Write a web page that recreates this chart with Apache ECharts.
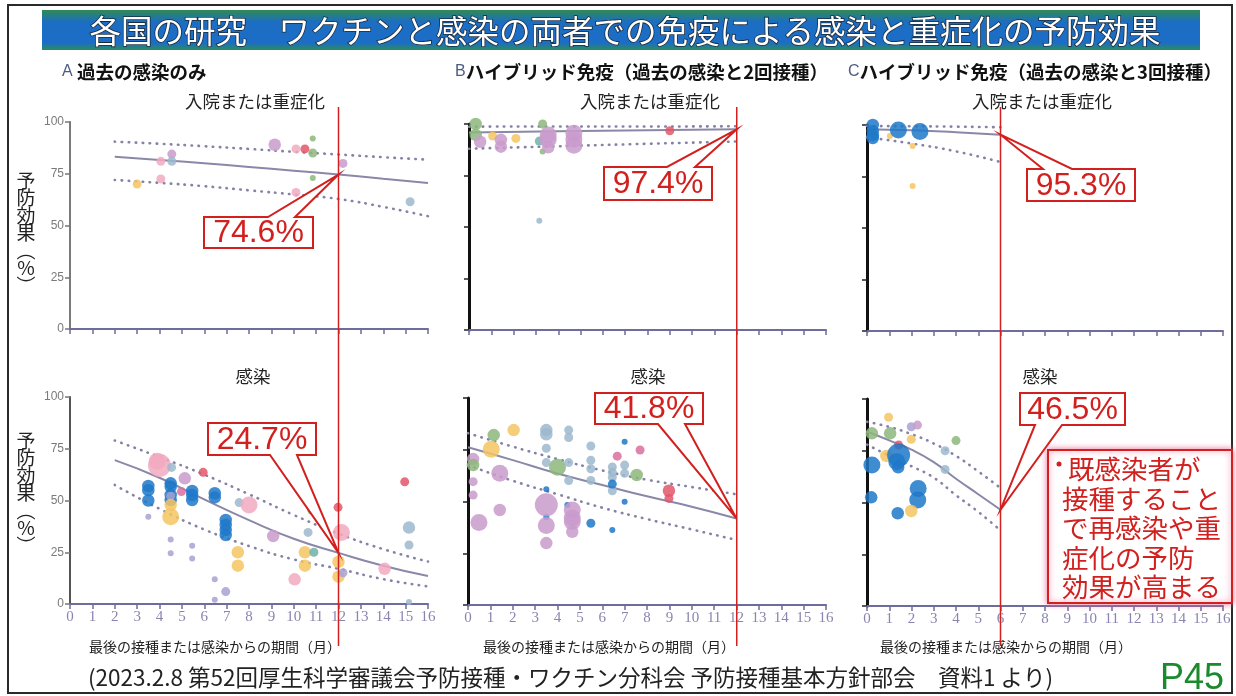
<!DOCTYPE html>
<html><head><meta charset="utf-8">
<script src="https://cdn.jsdelivr.net/npm/echarts@6/dist/echarts.min.js"></script>
<style>html,body{margin:0;padding:0;background:#fff}#c{width:1236px;height:696px}</style>
</head><body><div id="c"></div><script>
// ---------- texts ----------
const titleText = '各国の研究　ワクチンと感染の両者での免疫による感染と重症化の予防効果';
const panelLetters = ['A', 'B', 'C'];
const panelHeads = ['過去の感染のみ', 'ハイブリッド免疫（過去の感染と2回接種）', 'ハイブリッド免疫（過去の感染と3回接種）'];
const rowTitles = ['入院または重症化', '感染'];
const yNameChars = ['予', '防', '効', '果', '︵', '%', '︶'];
const xName = '最後の接種または感染からの期間（月）';
const footText = '(2023.2.8 第52回厚生科学審議会予防接種・ワクチン分科会 予防接種基本方針部会　資料1 より)';
const pageNo = 'P45';
const noteLines = ['既感染者が', '接種すること', 'で再感染や重', '症化の予防', '効果が高まる'];
const yTicks = [0, 25, 50, 75, 100];
const xMonths = [0, 16];

// study colour index: 0 blue,1 lavender,2 pink,3 yellow,4 grey-blue,5 red,6 green,7 teal,8 orchid,9 magenta
// points: [months, effectiveness %, weight, study]
const ptsA_severe = [
  [3.0,70,2,3],[4.06,81,2,2],[4.06,72.5,2,2],[4.55,84.5,2,8],[4.55,81,2,4],
  [9.15,89,3,8],[10.1,87,2,2],[10.5,87,2,5],[10.85,92,1,6],[10.85,85,2,6],
  [10.85,73,1,6],[10.1,66,2,2],[12.2,80,2,8],[15.2,61.5,2,4]
];
const ptsB_severe = [
  [0.3,100,3,6],[0.3,94.7,3,6],[0.5,91.4,3,8],[1.06,94.2,2,3],[1.43,92.3,3,8],[1.43,89,3,8],
  [2.1,93,2,3],[3.3,100,2,6],[3.15,91.7,2,7],[3.3,86.6,1,6],[3.55,94.7,4,8],[3.55,92.6,4,8],
  [3.55,88.7,3,8],[3.15,53,1,4],[4.7,95.5,4,8],[4.7,92.6,4,8],[4.7,89.7,4,8],[9.0,96.7,2,5]
];
const ptsC_severe = [
  [0.26,100,3,0],[0.26,97,3,0],[0.26,95,3,0],[0.26,93.7,3,0],[1.03,94.7,1,3],
  [1.41,97.6,4,0],[2.05,89.8,1,3],[2.38,96.8,4,0],[2.05,70.4,1,3]
];
const ptsA_inf = [
  [3.9,69,4,2],[4.0,67,5,2],[4.54,66,2,4],[5.95,63.6,2,5],[5.13,60.7,3,8],[4.98,54.3,2,9],
  [3.5,57,3,0],[3.5,55,3,0],[3.5,50,3,0],[4.5,58.3,3,0],[4.5,56.7,3,0],[4.5,52.7,3,0],[4.5,50.2,3,0],
  [4.5,52,2,1],[4.5,47.8,3,3],[4.5,42.2,4,3],[3.5,42.2,1,1],[4.5,31.2,1,1],[4.5,24.5,1,1],
  [5.46,54.6,3,0],[5.46,52.6,3,0],[5.46,50.2,3,0],[5.46,28.2,1,1],[5.46,22,1,1],
  [6.47,53.5,3,0],[6.47,51.5,3,0],[6.47,12,1,1],[6.47,2,1,1],
  [6.96,40.6,3,0],[6.96,38.2,3,0],[6.96,35.7,3,0],[6.96,33.3,3,0],[6.96,6,2,1],
  [7.56,49,2,4],[8.0,47.8,4,2],[7.5,25,3,3],[7.5,18.5,3,3],[9.08,32.8,3,8],[10.04,11.9,3,2],
  [10.5,25,3,3],[10.5,18.5,3,3],[10.64,34.6,2,4],[10.9,25,2,7],
  [10.8,49.4,2,6],[10.8,47,2,6],[10.8,45.4,2,6],[11.98,46.7,2,5],[12.13,34.5,4,2],
  [12.0,20.4,3,3],[12.0,13.2,3,3],[12.2,15.1,2,1],[14.06,17,3,2],[14.96,59,2,5],
  [15.15,36.9,3,4],[15.15,28.5,2,4],[15.15,1,1,4]
];
const ptsB_inf = [
  [0.23,70.5,3,8],[0.23,67.6,3,6],[0.23,59.6,2,8],[0.23,53.1,2,8],[0.49,39.8,4,8],
  [1.15,82.1,3,6],[1.04,75.2,4,3],[2.04,84.5,3,3],[1.42,63.6,4,8],[1.42,45.9,3,8],
  [3.5,84.5,3,4],[3.5,82.5,3,4],[3.5,75.7,2,4],[3.5,68.8,2,4],[3.5,55.9,1,0],[3.5,42.5,1,0],
  [3.5,48.4,5,8],[3.5,38.4,4,8],[3.5,29.9,3,8],[4.0,66.5,4,6],
  [4.5,84.5,2,4],[4.5,80.9,2,4],[4.5,68.8,2,4],[4.5,60.1,2,4],[4.44,48.3,1,0],
  [4.66,45.9,4,8],[4.66,42,4,8],[4.66,40.3,4,8],[4.66,35.4,3,8],
  [5.49,76.8,2,4],[5.49,69.9,2,4],[5.49,65.8,2,4],[5.49,60.2,2,4],[5.49,39.5,2,0],
  [6.45,66.7,2,4],[6.45,64.1,2,4],[6.45,61.6,2,4],[6.45,55.2,2,4],[6.45,58.4,2,0],[6.45,36.2,1,0],
  [6.67,71.9,2,9],[7.0,78.9,1,0],[7.0,67.6,2,4],[7.0,63.6,2,4],[7.0,49.9,1,0],
  [7.69,74.9,2,9],[7.54,62.8,3,6],[8.98,55.2,3,5],[8.98,51.5,2,5]
];
const ptsC_inf = [
  [0.97,91.2,2,3],[1.99,86.6,2,1],[2.27,87.4,2,8],[0.22,83.4,3,6],[1.04,83.4,3,6],
  [1.42,77.8,2,5],[1.99,80.5,2,3],[4.0,79.9,2,6],[3.51,75,2,4],[3.51,66,2,4],[0.87,72.5,3,3],
  [1.42,72.9,5,0],[1.34,69.7,4,0],[1.4,67,3,0],[0.22,68.1,4,0],[0.19,52.5,3,0],
  [2.3,56.8,4,0],[2.28,51.2,4,0],[1.38,44.8,3,0],[1.99,45.9,3,3]
];

// fitted curves and 95% bounds: [months, %]
const fitA_severe = [[2,83.2],[4,81.7],[6,80.1],[8,78.3],[10,76.5],[12,74.6],[14,72.6],[16,70.5]];
const upA_severe  = [[2,90.5],[4,89.5],[6,88.3],[8,87],[10,85.6],[12,84.3],[14,83],[16,81.8]];
const loA_severe  = [[2,72],[4,70.6],[6,69],[8,67],[10,65],[12,62.8],[14,59],[16,54.5]];
const fitB_severe = [[0,95.9],[4,96.5],[8,97],[12,97.4]];
const upB_severe  = [[0,98.7],[4,98.8],[8,98.8],[12,98.9]];
const loB_severe  = [[0,88],[4,89.2],[8,90.4],[12,91.5]];
const fitC_severe = [[0,97.9],[2,97.4],[4,96.5],[6,95.3]];
const upC_severe  = [[0,99.5],[2,99.4],[4,99.2],[6,98.9]];
const loC_severe  = [[0,94],[2,91],[4,87.2],[6,82]];
const fitA_inf = [[2,69.5],[4,61],[6,50.5],[8,40.5],[10,31.5],[12,24.7],[14,18.5],[16,13.5]];
const upA_inf  = [[2,79],[4,71],[6,62.5],[8,53],[10,43],[12,34],[14,26.5],[16,20.5]];
const loA_inf  = [[2,57.5],[4,46],[6,36],[8,28],[10,21.5],[12,17],[14,12],[16,8.5]];
const fitB_inf = [[0,76.2],[2,70],[4,63.5],[6,58],[8,52.5],[10,47.5],[12,41.8]];
const upB_inf  = [[0,83],[2,76.5],[4,70.5],[6,65],[8,60.5],[10,57],[12,53.5]];
const loB_inf  = [[0,67.6],[2,60],[4,53.5],[6,47],[8,41.5],[10,36.5],[12,31.4]];
const fitC_inf = [[0,84.3],[1,80],[2,75.5],[3,69.5],[4,61.5],[5,54],[6,46.5]];
const upC_inf  = [[0,89],[1,86.5],[2,83],[3,78.5],[4,72.5],[5,65],[6,57]];
const loC_inf  = [[0,78],[1,72.5],[2,67.5],[3,62],[4,53.5],[5,45.5],[6,36.5]];

// highlighted estimates [months, %]
const highlights = [[12,74.6],[12,97.4],[6,95.3],[12,24.7],[12,41.8],[6,46.5]];

// ---------- styling / layout ----------
const studyColors = ['#1f78c8','#a6a2d2','#f2a9bf','#f4c462','#9cb9cd','#e2566a','#8db77b','#70b0a6','#c99bcc','#d9709f'];
const sizeOf = w => [0, 6, 9, 12.5, 17, 23][w];
const grids = [
  {left:70, top:122, width:358, height:207},
  {left:469, top:124, width:357, height:206},
  {left:867, top:125, width:356, height:206},
  {left:70, top:397, width:358, height:207},
  {left:468, top:398, width:358, height:207},
  {left:867, top:399, width:356, height:207}
];
const panels = [
  [ptsA_severe, fitA_severe, upA_severe, loA_severe],
  [ptsB_severe, fitB_severe, upB_severe, loB_severe],
  [ptsC_severe, fitC_severe, upC_severe, loC_severe],
  [ptsA_inf, fitA_inf, upA_inf, loA_inf],
  [ptsB_inf, fitB_inf, upB_inf, loB_inf],
  [ptsC_inf, fitC_inf, upC_inf, loC_inf]
];
// callout boxes: x, y, w, h, pointer base 1, pointer base 2, side
const boxes = [
  [204,217,109,31,64,91,'top'],
  [604,167,108,33,63,91,'top'],
  [1027,169,108,32,16,45,'top'],
  [208,423,108,32,62,89,'bottom'],
  [595,393,108,31,63,90,'bottom'],
  [1020,393,105,32,15,42,'bottom']
];
const RED = '#d2201e';
const JP = '"Noto Sans CJK JP"';

const chart = echarts.init(document.getElementById('c'), null, {renderer:'canvas'});
const xAxes = [], yAxes = [], series = [];
grids.forEach((g, i) => {
  const bottomRow = i >= 3;
  xAxes.push({
    gridIndex:i, type:'value', min:xMonths[0], max:xMonths[1], interval:1,
    splitLine:{show:false},
    axisLine:{lineStyle:{color:'#6e6c9c', width:2}},
    axisTick:{length:5, lineStyle:{color:'#6e6c9c', width:1.5}},
    axisLabel:{show:bottomRow, color:'#8a85b0', fontFamily:'"Liberation Serif"', fontSize:15, margin:6}
  });
  const col = i % 3;
  yAxes.push({
    gridIndex:i, type:'value', min:yTicks[0], max:yTicks[yTicks.length-1], interval:25,
    splitLine:{show:false},
    axisLine:{show:true, lineStyle:{color: col === 0 ? (bottomRow ? '#555' : '#7a7a7a') : '#111', width: col === 0 ? 2 : 3}},
    axisTick:{show:true, length:5, lineStyle:{color: col === 0 ? '#777' : '#222', width:1.5}},
    axisLabel:{show: col === 0, color:'#7a7a7a', fontSize:12, fontFamily:'"Liberation Sans"', margin:6}
  });
  const [pts, fit, up, lo] = panels[i];
  const bound = d => ({type:'line', xAxisIndex:i, yAxisIndex:i, data:d, smooth:true, showSymbol:false, silent:true,
    lineStyle:{color:'#8482a6', width:2.6, type:[0.5,6.5], cap:'round'}, z:2});
  series.push(bound(up), bound(lo));
  series.push({type:'line', xAxisIndex:i, yAxisIndex:i, data:fit, smooth:true, showSymbol:false, silent:true,
    lineStyle:{color:'#8a88a8', width:2}, z:2});
  series.push({type:'scatter', xAxisIndex:i, yAxisIndex:i, data:pts, z:3,
    symbolSize: v => sizeOf(v[2]),
    itemStyle:{opacity:0.85, color: p => studyColors[p.data[3]]}});
});

chart.setOption({
  animation:false,
  backgroundColor:'#ffffff',
  grid: grids.map(g => Object.assign({containLabel:false}, g)),
  xAxis: xAxes, yAxis: yAxes, series: series
});

// ---------- annotations ----------
const gfx = [];
gfx.push({type:'rect', shape:{x:8, y:5, width:1224, height:688}, style:{fill:'none', stroke:'#2a2a2a', lineWidth:2}, z:1});
gfx.push({type:'rect', shape:{x:42, y:10, width:1158, height:40},
  style:{fill:new echarts.graphic.LinearGradient(0,0,0,1,[
    {offset:0, color:'#2f8a55'},{offset:0.3, color:'#1c6dc4'},{offset:0.82, color:'#1c6dc6'},{offset:1, color:'#2a8d5c'}])}, z:1});
gfx.push({type:'text', x:625, y:31, style:{text:titleText, fill:'#ffffff', font:'31.5px ' + JP,
  align:'center', verticalAlign:'middle', stroke:'#1a2a3a', lineWidth:1.6}, z:2});

const headX = [62, 455, 848];
headX.forEach((x, k) => {
  gfx.push({type:'text', x:x, y:72, style:{
    rich:{a:{fill:'#4d5c82', font:'16px "Liberation Sans"'}, b:{fill:'#111', font:'bold 18.5px ' + JP}},
    text:'{a|' + panelLetters[k] + (k === 0 ? ' ' : '') + '}{b|' + panelHeads[k] + '}', verticalAlign:'middle'}, z:2});
});
const rowCenters = [255, 650, 1042];
rowCenters.forEach(x => {
  gfx.push({type:'text', x:x, y:101, style:{text:rowTitles[0], fill:'#222', font:'17.5px ' + JP, align:'center', verticalAlign:'middle'}});
  gfx.push({type:'text', x:x - 2, y:376, style:{text:rowTitles[1], fill:'#222', font:'17.5px ' + JP, align:'center', verticalAlign:'middle'}});
});
[233, 493].forEach(cy => {
  gfx.push({type:'text', x:26, y:cy, style:{text:yNameChars.join('\n'), fill:'#222', font:'19px ' + JP,
    lineHeight:17.5, align:'center', verticalAlign:'middle'}});
});
[215, 609, 1006].forEach(x => {
  gfx.push({type:'text', x:x, y:647, style:{text:xName, fill:'#222', font:'14px ' + JP, align:'center', verticalAlign:'middle'}});
});
gfx.push({type:'text', x:88, y:677, style:{text:footText, fill:'#222', font:'22.5px ' + JP, verticalAlign:'middle'}});
gfx.push({type:'text', x:1160, y:679, style:{text:pageNo, fill:'#1b8a2c', font:'36px "Liberation Sans"', verticalAlign:'middle'}});

// red vertical lines (one per column, through both rows)
for (let c = 0; c < 3; c++) {
  const px = chart.convertToPixel({xAxisIndex:c}, highlights[c][0]);
  gfx.push({type:'line', shape:{x1:px, y1:107, x2:px, y2:646}, style:{stroke:RED, lineWidth:1.5}, z:50});
}
// callouts
highlights.forEach((h, i) => {
  const tip = chart.convertToPixel({gridIndex:i}, h);
  const [bx, by, bw, bh, b1, b2, side] = boxes[i];
  const pts = side === 'top'
    ? [[bx,by],[bx+b1,by],tip,[bx+b2,by],[bx+bw,by],[bx+bw,by+bh],[bx,by+bh]]
    : [[bx,by],[bx+bw,by],[bx+bw,by+bh],[bx+b2,by+bh],tip,[bx+b1,by+bh],[bx,by+bh]];
  gfx.push({type:'polygon', shape:{points:pts}, style:{fill:'#fff', stroke:RED, lineWidth:2, lineJoin:'miter'}, z:60});
  gfx.push({type:'text', x:bx + bw/2, y:by + bh/2 + 1, style:{text:h[1].toFixed(1) + '%', fill:RED,
    font:'32px "Liberation Sans"', align:'center', verticalAlign:'middle'}, z:61});
});
// note box
gfx.push({type:'rect', shape:{x:1048, y:450, width:184, height:153},
  style:{fill:'#fff', stroke:RED, lineWidth:2, shadowBlur:6, shadowColor:'rgba(240,90,140,0.8)'}, z:60});
gfx.push({type:'circle', shape:{cx:1059, cy:464, r:2.5}, style:{fill:RED}, z:61});
noteLines.forEach((t, k) => {
  gfx.push({type:'text', x: k === 0 ? 1068 : 1062, y:469 + k * 29.5, style:{text:t, fill:RED,
    font:'26.5px ' + JP, verticalAlign:'middle'}, z:61});
});
chart.setOption({graphic:{elements:gfx}});
</script></body></html>
